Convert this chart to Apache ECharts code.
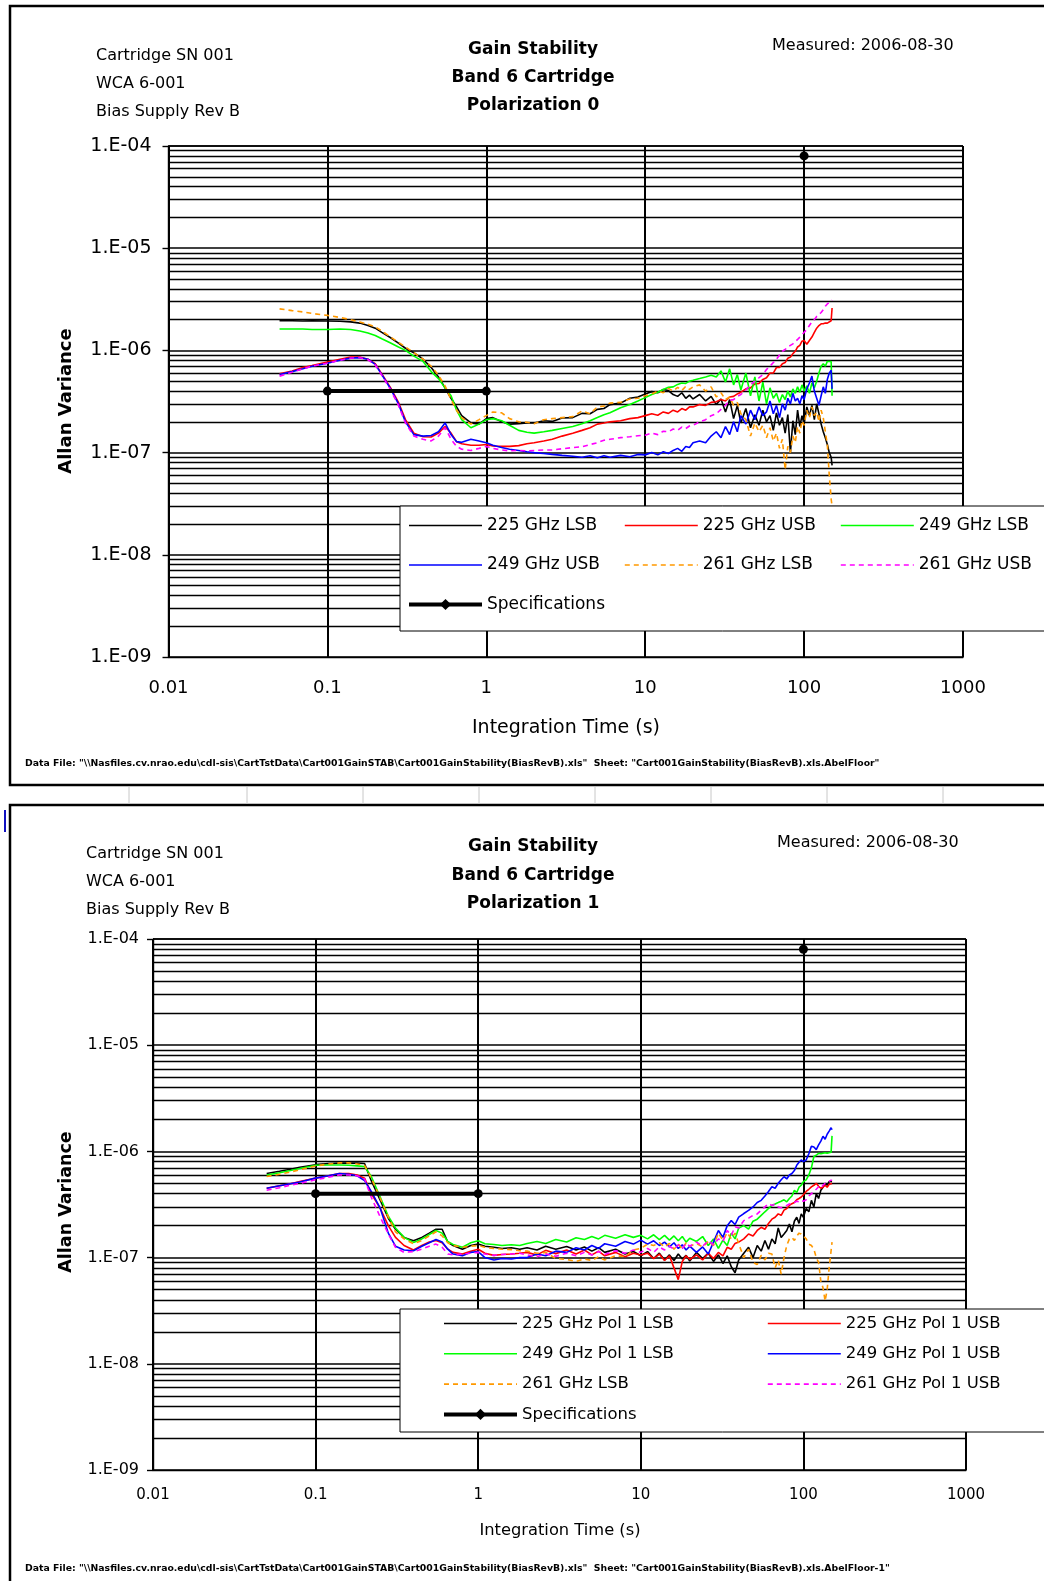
<!DOCTYPE html>
<html>
<head>
<meta charset="utf-8">
<title>Gain Stability - Band 6 Cartridge</title>
<script src="https://cdn.jsdelivr.net/npm/echarts@6/dist/echarts.min.js"></script>
<style>
  html, body { margin: 0; padding: 0; background: #fff; }
  #chart { width: 1044px; height: 1581px; }
</style>
</head>
<body>
<div id="chart"></div>
<script>
// 字体与单位
const FONT = 'DejaVu Sans'
const UNIT = 1e-7 // 下面的方差数组都以 1e-7 为单位

// 积分时间 (s)，两张图共用
const tau = [
  0.05, 0.06, 0.07, 0.08, 0.1, 0.12, 0.14, 0.16, 0.18, 0.2,
  0.22, 0.25, 0.28, 0.31, 0.35, 0.4, 0.45, 0.5, 0.55, 0.6,
  0.65, 0.7, 0.8, 0.9, 1.0, 1.1, 1.25, 1.4, 1.6, 1.8,
  2, 2.3, 2.6, 3, 3.5, 4, 4.5, 5, 5.5, 6, 7, 8, 9,
  10, 11, 12, 13, 14, 15, 16, 17, 18, 19, 20,
  22, 24, 26, 28, 30, 32, 34, 36, 38, 40,
  43, 46, 49, 52, 55, 58, 61, 64, 67, 70, 73, 76, 79, 82, 85, 88, 91, 94, 97, 100,
  104, 108, 112, 116, 120, 124, 128, 132, 136, 140, 144, 148, 150
]

const xTickLabels = ['0.01', '0.1', '1', '10', '100', '1000']
const yTickLabels = ['1.E-09', '1.E-08', '1.E-07', '1.E-06', '1.E-05', '1.E-04']

// 规格线
const specTau = [0.1, 1, 10, 100]
const specValues = [4e-7, 4e-7, null, 8e-5]

// ---------- Polarization 0 ----------
const pol0Names = ['225 GHz LSB', '225 GHz USB', '249 GHz LSB', '249 GHz USB', '261 GHz LSB', '261 GHz USB']

const pol0_225LSB = [
  19.5, 19.5, 19.4, 19.5, 19.4, 19.3, 19.0, 18.5, 17.5, 16.5,
  15.0, 13.3, 11.8, 10.5, 9.5, 8.2, 6.8, 5.5, 4.3, 3.4,
  2.8, 2.3, 1.95, 1.9, 2.15, 2.2, 2.0, 1.9, 1.92, 1.95,
  1.95, 2.05, 2.02, 2.18, 2.2, 2.42, 2.4, 2.65, 2.7, 2.95, 3.05, 3.4, 3.5,
  3.75, 3.95, 3.85, 4.15, 4.05, 3.7, 3.55, 3.85, 3.4, 3.65, 3.35,
  3.7, 3.2, 3.55, 2.95, 3.35, 2.5, 3.3, 2.15, 2.9, 1.95,
  2.7, 1.75, 2.35, 1.85, 2.6, 2.0, 2.3, 1.65, 2.45, 1.85, 2.2, 1.55, 2.35, 1.0, 2.05, 1.5, 2.6, 1.8, 2.3, 1.9,
  2.8, 2.3, 2.9, 2.1, 3.0, 2.4, 1.9, 1.6, 1.4, 1.2, 1.0, 0.9, 0.75
]
const pol0_225USB = [
  5.9, 6.3, 6.8, 7.1, 7.7, 8.2, 8.6, 8.6, 8.2, 7.4,
  5.9, 4.3, 3.1, 2.1, 1.55, 1.43, 1.42, 1.55, 1.8, 1.55,
  1.28, 1.22, 1.18, 1.18, 1.2, 1.16, 1.15, 1.15, 1.17, 1.22,
  1.25, 1.3, 1.35, 1.45, 1.55, 1.65, 1.75, 1.9, 1.95, 2.0, 2.05, 2.15, 2.2,
  2.3, 2.4, 2.32, 2.5, 2.42, 2.6, 2.5, 2.7, 2.6, 2.8, 2.8,
  2.95, 2.9, 3.1, 3.15, 3.3, 3.2, 3.5, 3.55, 3.75, 3.9,
  4.2, 4.3, 4.7, 4.75, 5.2, 5.4, 6.0, 6.0, 6.8, 6.8, 7.4, 7.6, 8.4, 8.6, 9.3, 9.8, 10.8, 11.2, 12.3, 12.5,
  11.5, 12.5, 13.5, 15.0, 16.5, 17.5, 18.2, 18.2, 18.5, 18.5, 19.0, 19.5, 26.0
]
const pol0_249LSB = [
  16.2, 16.2, 16.2, 16.0, 16.0, 16.2, 16.0, 15.5, 14.8, 14.0,
  13.0, 11.8, 10.8, 10.0, 8.8, 7.8, 6.2, 5.3, 4.3, 3.6,
  2.6, 2.1, 1.75, 1.9, 2.1, 2.15, 2.05, 1.85, 1.65, 1.58,
  1.55, 1.6, 1.65, 1.72, 1.8, 1.92, 2.05, 2.2, 2.35, 2.45, 2.75, 2.95, 3.2,
  3.45, 3.7, 3.9, 4.15, 4.35, 4.4, 4.65, 4.8, 4.75, 5.0, 5.1,
  5.3, 5.5, 5.7, 5.5, 6.3, 4.9, 6.6, 4.6, 5.8, 4.1,
  6.0, 3.6, 5.5, 3.2, 4.9, 3.0, 4.3, 3.4, 3.8, 3.1, 3.7, 3.3, 4.0, 3.5, 4.2, 3.8, 4.4, 3.9, 4.6, 4.0,
  4.5, 3.8, 4.8, 4.3, 5.0, 6.0, 7.0, 7.4, 7.0, 7.8, 8.0, 7.8, 3.6
]
const pol0_249USB = [
  5.8, 6.2, 6.6, 7.0, 7.5, 8.0, 8.4, 8.5, 8.2, 7.3,
  5.8, 4.2, 3.0, 2.0, 1.5, 1.45, 1.47, 1.6, 1.95, 1.5,
  1.28, 1.26, 1.35, 1.3, 1.25, 1.18, 1.12, 1.08, 1.05, 1.02,
  1.0, 0.98, 0.96, 0.94, 0.92, 0.9, 0.93, 0.89, 0.93, 0.9, 0.94, 0.91, 0.96,
  0.95, 1.0, 0.95, 1.02, 0.98, 1.05, 1.1, 1.03, 1.15, 1.12, 1.25,
  1.3, 1.25, 1.45, 1.6, 1.4, 1.8, 1.5, 2.0, 1.6, 2.3,
  1.9, 2.6, 2.1, 2.8, 2.3, 2.5, 3.2, 2.4, 2.9, 2.2, 3.0, 2.6, 3.4, 3.0, 3.8, 3.2, 3.4, 3.0, 3.6, 3.3,
  4.2, 4.8, 5.6, 4.0, 3.4, 2.9, 3.6, 4.4, 3.8, 5.2, 6.0, 6.4, 4.2
]
const pol0_261LSB = [
  25.5, 24.5, 23.8, 23.0, 22.0, 21.0, 20.0, 19.0, 18.0, 17.0,
  15.5, 13.5, 12.0, 10.8, 9.5, 8.2, 7.0, 5.7, 4.5, 3.3,
  2.6, 2.2, 1.9, 2.1, 2.3, 2.5, 2.45, 2.15, 2.0, 1.98,
  1.92, 2.1, 2.15, 2.2, 2.25, 2.55, 2.4, 2.8, 2.85, 3.05, 3.1, 3.35, 3.4,
  3.6, 3.75, 4.0, 3.85, 4.25, 4.0, 4.35, 4.05, 4.45, 4.15, 4.4,
  4.6, 4.0, 4.4, 3.5, 3.85, 3.3, 3.5, 2.9, 3.1, 2.4,
  2.1, 1.45, 1.95, 1.6, 1.85, 1.4, 1.75, 1.3, 1.55, 1.1, 1.35, 0.68, 1.15, 1.0, 1.45, 1.25, 1.8, 1.55, 2.05, 1.85,
  2.6, 2.2, 2.8, 2.3, 2.5, 2.0, 2.6, 2.2, 1.6, 1.2, 0.6, 0.35, 0.3
]
const pol0_261USB = [
  5.6, 6.1, 6.6, 7.0, 7.5, 8.0, 8.4, 8.5, 8.1, 7.2,
  5.7, 4.1, 2.9, 1.95, 1.45, 1.35, 1.3, 1.45, 1.75, 1.35,
  1.15, 1.08, 1.05, 1.1, 1.15, 1.1, 1.06, 1.04, 1.05, 1.04,
  1.05, 1.06, 1.06, 1.09, 1.12, 1.14, 1.2, 1.25, 1.32, 1.35, 1.4, 1.43, 1.46,
  1.48, 1.55, 1.5, 1.62, 1.6, 1.7, 1.65, 1.78, 1.72, 1.82, 1.85,
  2.0, 2.1, 2.3, 2.4, 2.65, 2.9, 3.25, 3.3, 3.55, 3.7,
  4.1, 4.6, 5.0, 5.4, 5.8, 6.5, 7.0, 7.6, 8.2, 9.0, 9.8, 10.2, 10.8, 11.2, 11.6, 12.2, 12.8, 13.5, 14.2, 15.0,
  16.0, 17.5, 19.0, 20.0, 21.5, 22.5, 23.5, 25.0, 27.0, 28.5, 29.5, 30.5, 31.0
]

// ---------- Polarization 1 ----------
const pol1Names = ['225 GHz Pol 1 LSB', '225 GHz Pol 1 USB', '249 GHz Pol 1 LSB', '249 GHz Pol 1 USB', '261 GHz LSB', '261 GHz Pol 1 USB']

const pol1_225LSB = [
  6.2, 6.5, 6.8, 7.1, 7.5, 7.7, 7.75, 7.75, 7.75, 7.7,
  5.3, 3.45, 2.35, 1.85, 1.55, 1.44, 1.55, 1.7, 1.85, 1.85,
  1.4, 1.3, 1.2, 1.3, 1.34, 1.28, 1.25, 1.22, 1.24, 1.2,
  1.24, 1.18, 1.28, 1.2, 1.27, 1.18, 1.26, 1.15, 1.24, 1.12, 1.2, 1.08, 1.14,
  1.04, 1.14, 0.98, 1.1, 0.95, 1.06, 0.94, 1.08, 0.97, 1.05, 0.93,
  1.12, 0.98, 1.1, 0.92, 1.06, 0.88, 1.04, 0.82, 0.72, 0.95,
  1.1, 1.25, 1.0, 1.3, 1.15, 1.45, 1.2, 1.5, 1.35, 1.9, 1.55, 1.67, 1.8, 2.07, 1.75, 2.2, 2.4, 2.1, 2.58, 2.4,
  2.9, 2.7, 3.46, 3.0, 4.0, 3.6, 4.3, 4.6, 5.0, 4.8, 5.2, 5.37, 5.2
]
const pol1_225USB = [
  4.5, 4.75, 4.95, 5.2, 5.6, 5.9, 6.2, 6.2, 6.0, 5.6,
  4.0, 2.9, 2.0, 1.55, 1.3, 1.18, 1.3, 1.4, 1.45, 1.38,
  1.2, 1.12, 1.08, 1.15, 1.2, 1.1, 1.05, 1.07, 1.08, 1.1,
  1.12, 1.06, 1.17, 1.09, 1.18, 1.08, 1.18, 1.06, 1.15, 1.04, 1.12, 1.02, 1.1,
  1.06, 1.1, 0.98, 1.08, 0.94, 1.04, 0.8, 0.62, 0.92, 1.04, 0.96,
  1.06, 0.95, 1.1, 0.98, 1.12, 1.04, 1.25, 1.2, 1.36, 1.4,
  1.5, 1.67, 1.6, 1.8, 1.93, 1.85, 2.1, 2.3, 2.4, 2.58, 2.5, 2.8, 2.9, 3.1, 3.22, 3.3, 3.5, 3.6, 3.72, 3.9,
  4.2, 4.4, 4.64, 4.8, 5.0, 4.7, 4.5, 4.6, 4.8, 4.6, 4.9, 4.8, 5.0
]
const pol1_249LSB = [
  6.0, 6.3, 6.6, 6.9, 7.4, 7.45, 7.45, 7.4, 7.3, 7.2,
  5.8, 3.7, 2.45, 1.9, 1.55, 1.39, 1.5, 1.65, 1.8, 1.7,
  1.42, 1.33, 1.25, 1.38, 1.44, 1.35, 1.33, 1.3, 1.32, 1.3,
  1.36, 1.42, 1.36, 1.48, 1.4, 1.54, 1.48, 1.58, 1.5, 1.62, 1.52, 1.64, 1.55,
  1.62, 1.5, 1.64, 1.48, 1.62, 1.46, 1.6, 1.44, 1.58, 1.4, 1.52,
  1.42, 1.58, 1.3, 1.5, 1.22, 1.46, 1.3, 1.7, 1.5, 1.9,
  2.0, 1.85, 2.2, 2.3, 2.5, 2.7, 2.9, 3.1, 3.2, 3.3, 3.4, 3.5, 3.35, 3.6, 3.8, 4.3, 4.1, 4.6, 4.8, 5.2,
  5.4, 6.0, 7.0, 8.96, 9.2, 9.6, 9.5, 9.6, 9.7, 9.6, 9.7, 9.8, 14.0
]
const pol1_249USB = [
  4.5, 4.75, 4.95, 5.15, 5.6, 5.9, 6.2, 6.1, 5.9, 5.3,
  4.2, 2.9, 1.7, 1.28, 1.18, 1.16, 1.28, 1.38, 1.48, 1.4,
  1.2, 1.08, 1.04, 1.12, 1.14, 1.0, 0.95, 0.98, 0.97, 1.0,
  1.0, 1.08, 1.04, 1.15, 1.12, 1.24, 1.18, 1.3, 1.22, 1.35, 1.28, 1.42, 1.34,
  1.46, 1.34, 1.44, 1.3, 1.4, 1.26, 1.38, 1.22, 1.32, 1.18, 1.28,
  1.12, 1.26, 1.08, 1.4, 1.8, 1.55, 2.0, 2.23, 2.05, 2.4,
  2.6, 2.78, 3.0, 3.3, 3.46, 3.8, 4.2, 4.64, 4.5, 5.0, 5.4, 5.78, 5.5, 6.0, 6.2, 6.6, 7.4, 7.9, 8.3, 8.0,
  8.3, 9.5, 11.2, 11.0, 10.4, 11.5, 12.5, 13.9, 13.0, 14.5, 15.5, 16.7, 16.0
]
const pol1_261LSB = [
  5.8, 6.1, 6.4, 6.7, 7.3, 7.6, 7.8, 7.8, 7.6, 7.4,
  5.6, 3.6, 2.4, 1.75, 1.5, 1.35, 1.45, 1.6, 1.75, 1.6,
  1.38, 1.3, 1.25, 1.28, 1.3, 1.25, 1.22, 1.2, 1.19, 1.16,
  1.15, 1.1, 1.12, 0.98, 0.96, 0.92, 0.97, 0.94, 1.02, 0.95, 1.04, 1.02, 1.18,
  1.22, 1.34, 1.3, 1.38, 1.26, 1.36, 1.2, 1.34, 1.2, 1.38, 1.28,
  1.36, 1.26, 1.42, 1.3, 1.7, 1.45, 1.72, 1.5, 1.7, 1.35,
  1.0, 1.2, 0.9, 0.86, 1.05, 0.95, 1.1, 1.08, 0.8, 0.95, 0.7, 1.0, 1.3, 1.5, 1.55, 1.45, 1.6, 1.7, 1.67, 1.6,
  1.5, 1.34, 1.3, 1.2, 1.0, 0.9, 0.6, 0.52, 0.39, 0.5, 0.8, 1.16, 1.4
]
const pol1_261USB = [
  4.3, 4.55, 4.8, 5.0, 5.4, 5.7, 6.0, 6.0, 5.9, 5.5,
  3.7, 2.4, 1.67, 1.25, 1.12, 1.14, 1.2, 1.28, 1.34, 1.25,
  1.08, 1.06, 1.08, 1.1, 1.12, 1.08, 1.05, 1.07, 1.08, 1.1,
  1.06, 1.02, 1.08, 1.03, 1.1, 1.04, 1.12, 1.06, 1.14, 1.07, 1.16, 1.1, 1.18,
  1.12, 1.22, 1.12, 1.26, 1.18, 1.28, 1.2, 1.32, 1.22, 1.36, 1.28,
  1.4, 1.28, 1.44, 1.32, 1.5, 1.42, 1.8, 1.62, 1.95, 1.9,
  2.23, 2.35, 2.5, 2.58, 2.8, 3.0, 3.22, 3.1, 3.2, 3.0, 2.95, 3.0, 3.1, 3.2, 3.22, 3.3, 3.4, 3.35, 3.46, 3.4,
  3.5, 3.8, 4.0, 4.2, 4.4, 4.64, 4.5, 4.8, 5.0, 5.1, 5.2, 5.37, 5.3
]

const pol0Values = [pol0_225LSB, pol0_225USB, pol0_249LSB, pol0_249USB, pol0_261LSB, pol0_261USB]
const pol1Values = [pol1_225LSB, pol1_225USB, pol1_249LSB, pol1_249USB, pol1_261LSB, pol1_261USB]

// 样式
const colors = ['#000000', '#ff0000', '#00ff00', '#0000ff', '#ff9900', '#ff00ff']
const dashed = [false, false, false, false, true, true]

// 次网格线（每个数量级内的 2..9）
const minorLevels = []
for (let e = -9; e < -4; e++) {
  for (let m = 2; m <= 9; m++) minorLevels.push(m * Math.pow(10, e))
}

// 规格点：线上用圆点，图例里用菱形
const specData = specTau.map((t, i) => ({
  value: [t, specValues[i] == null ? '-' : specValues[i]],
  symbol: 'circle'
}))

function buildSeries(names, values, gi) {
  const list = names.map((name, i) => ({
    name,
    type: 'line',
    xAxisIndex: gi,
    yAxisIndex: gi,
    symbol: 'none',
    data: tau.map((t, k) => [t, values[i][k] * UNIT]),
    lineStyle: { color: colors[i], width: 1.6, type: dashed[i] ? [5, 4] : 'solid' },
    itemStyle: { color: colors[i] },
    z: 2
  }))
  list.push({
    name: 'Specifications',
    type: 'line',
    xAxisIndex: gi,
    yAxisIndex: gi,
    symbol: 'diamond',
    symbolSize: 9,
    data: specData,
    lineStyle: { color: '#000', width: 4 },
    itemStyle: { color: '#000' },
    z: 3,
    // 次网格线挂在这里
    markLine: {
      silent: true,
      z: 1,
      symbol: ['none', 'none'],
      label: { show: false },
      emphasis: { disabled: true },
      lineStyle: { color: '#000', width: 1.4, type: 'solid' },
      data: minorLevels.map((v) => [{ coord: [0.01, v] }, { coord: [1000, v] }])
    }
  })
  return list
}

function xAxisOf(gi, fontSize, margin) {
  return {
    type: 'log',
    gridIndex: gi,
    logBase: 10,
    min: 0.01,
    max: 1000,
    splitNumber: 5,
    axisLine: { show: true, onZero: false, lineStyle: { color: '#000', width: 1.4 } },
    axisTick: { show: false },
    axisLabel: {
      color: '#000',
      fontFamily: FONT,
      fontSize,
      margin,
      formatter: (v) => xTickLabels[Math.round(Math.log10(v)) + 2]
    },
    splitLine: { show: true, lineStyle: { color: '#000', width: 2 } }
  }
}

function yAxisOf(gi, fontSize, margin) {
  return {
    type: 'log',
    gridIndex: gi,
    logBase: 10,
    min: 1e-9,
    max: 1e-4,
    splitNumber: 5,
    axisLine: { show: true, onZero: false, lineStyle: { color: '#000', width: 1.4 } },
    axisTick: { show: true, length: 6, lineStyle: { color: '#000', width: 1.4 } },
    axisLabel: {
      color: '#000',
      fontFamily: FONT,
      fontSize,
      margin,
      formatter: (v) => yTickLabels[Math.round(Math.log10(v)) + 9]
    },
    splitLine: { show: true, lineStyle: { color: '#000', width: 1.5 } }
  }
}

function legendOf(left, top, gap, fontSize, names) {
  return {
    orient: 'vertical',
    left,
    top,
    padding: 0,
    itemWidth: 73,
    itemHeight: 14,
    itemGap: gap,
    selectedMode: false,
    z: 7,
    itemStyle: { opacity: 0 },
    lineStyle: { width: 'inherit' },
    textStyle: { color: '#000', fontFamily: FONT, fontSize, lineHeight: 18 },
    data: names.map((n) => (n === 'Specifications' ? { name: n, itemStyle: { opacity: 1 } } : n))
  }
}

function txt(text, x, y, size, opts = {}) {
  return {
    type: 'text',
    z: 8,
    x: opts.rx || 0,
    y: opts.ry || 0,
    rotation: opts.rotation || 0,
    style: {
      text,
      x: opts.rotation ? 0 : x,
      y: opts.rotation ? 0 : y,
      fill: '#000',
      font: (opts.bold ? 'bold ' : '') + size + 'px "' + FONT + '"',
      textAlign: opts.align || 'left',
      textVerticalAlign: 'middle'
    }
  }
}

const dataFile0 = 'Data File: "\\\\Nasfiles.cv.nrao.edu\\cdl-sis\\CartTstData\\Cart001GainSTAB\\Cart001GainStability(BiasRevB).xls"  Sheet: "Cart001GainStability(BiasRevB).xls.AbelFloor"'
const dataFile1 = 'Data File: "\\\\Nasfiles.cv.nrao.edu\\cdl-sis\\CartTstData\\Cart001GainSTAB\\Cart001GainStability(BiasRevB).xls"  Sheet: "Cart001GainStability(BiasRevB).xls.AbelFloor-1"'

const stripX = [129, 247, 363, 479, 595, 711, 827, 943]

const graphics = [
  // 外框
  { type: 'rect', z: 0, shape: { x: 10, y: 6, width: 1100, height: 779 }, style: { fill: '#fff', stroke: '#000', lineWidth: 2.5 } },
  { type: 'rect', z: 0, shape: { x: 10, y: 805, width: 1100, height: 900 }, style: { fill: '#fff', stroke: '#000', lineWidth: 2.5 } },
  { type: 'rect', z: 0, shape: { x: 4, y: 810, width: 2, height: 22 }, style: { fill: '#1010c0' } },
  // 图例框
  { type: 'rect', z: 6, shape: { x: 400, y: 506, width: 700, height: 125 }, style: { fill: '#fff', stroke: '#000', lineWidth: 1 } },
  { type: 'rect', z: 6, shape: { x: 400, y: 1309, width: 700, height: 123 }, style: { fill: '#fff', stroke: '#000', lineWidth: 1 } },
  // 上图文字
  txt('Cartridge SN 001', 96, 56, 16),
  txt('WCA 6-001', 96, 84, 16),
  txt('Bias Supply Rev B', 96, 112, 16),
  txt('Gain Stability', 533, 50, 17, { bold: true, align: 'center' }),
  txt('Band 6 Cartridge', 533, 78, 17, { bold: true, align: 'center' }),
  txt('Polarization 0', 533, 106, 17, { bold: true, align: 'center' }),
  txt('Measured: 2006-08-30', 772, 46, 16),
  txt('Allan Variance', 0, 0, 18, { bold: true, align: 'center', rotation: Math.PI / 2, rx: 66, ry: 401 }),
  txt('Integration Time (s)', 566, 728, 19, { align: 'center' }),
  txt(dataFile0, 25, 764, 9.3, { bold: true }),
  // 下图文字
  txt('Cartridge SN 001', 86, 854, 16),
  txt('WCA 6-001', 86, 882, 16),
  txt('Bias Supply Rev B', 86, 910, 16),
  txt('Gain Stability', 533, 847, 17, { bold: true, align: 'center' }),
  txt('Band 6 Cartridge', 533, 876, 17, { bold: true, align: 'center' }),
  txt('Polarization 1', 533, 904, 17, { bold: true, align: 'center' }),
  txt('Measured: 2006-08-30', 777, 843, 16),
  txt('Allan Variance', 0, 0, 17.5, { bold: true, align: 'center', rotation: Math.PI / 2, rx: 66, ry: 1202 }),
  txt('Integration Time (s)', 560, 1531, 16.3, { align: 'center' }),
  txt(dataFile1, 25, 1569, 9.3, { bold: true })
]
stripX.forEach((x) => {
  graphics.push({ type: 'line', z: 0, shape: { x1: x, y1: 787, x2: x, y2: 804 }, style: { stroke: '#c8c8c8', lineWidth: 1 } })
})

const chart = echarts.init(document.getElementById('chart'), null, { renderer: 'canvas' })

const option = {
  backgroundColor: '#fff',
  animation: false,
  grid: [
    { left: 168.5, top: 146, width: 794.5, height: 511, containLabel: false },
    { left: 153, top: 939, width: 813, height: 531, containLabel: false }
  ],
  xAxis: [xAxisOf(0, 18, 22), xAxisOf(1, 15, 18)],
  yAxis: [yAxisOf(0, 19, 17), yAxisOf(1, 16, 14)],
  legend: [
    legendOf(407, 516.5, 21.5, 17, [pol0Names[0], pol0Names[3], 'Specifications']),
    legendOf(624, 516.5, 21.5, 17, [pol0Names[1], pol0Names[4]]),
    legendOf(840, 516.5, 21.5, 17, [pol0Names[2], pol0Names[5]]),
    legendOf(442, 1314.5, 12.3, 16.5, [pol1Names[0], pol1Names[2], pol1Names[4], 'Specifications']),
    legendOf(767, 1314.5, 12.3, 16.5, [pol1Names[1], pol1Names[3], pol1Names[5]])
  ],
  graphic: graphics,
  series: [...buildSeries(pol0Names, pol0Values, 0), ...buildSeries(pol1Names, pol1Values, 1)]
}

chart.setOption(option)
</script>
</body>
</html>
